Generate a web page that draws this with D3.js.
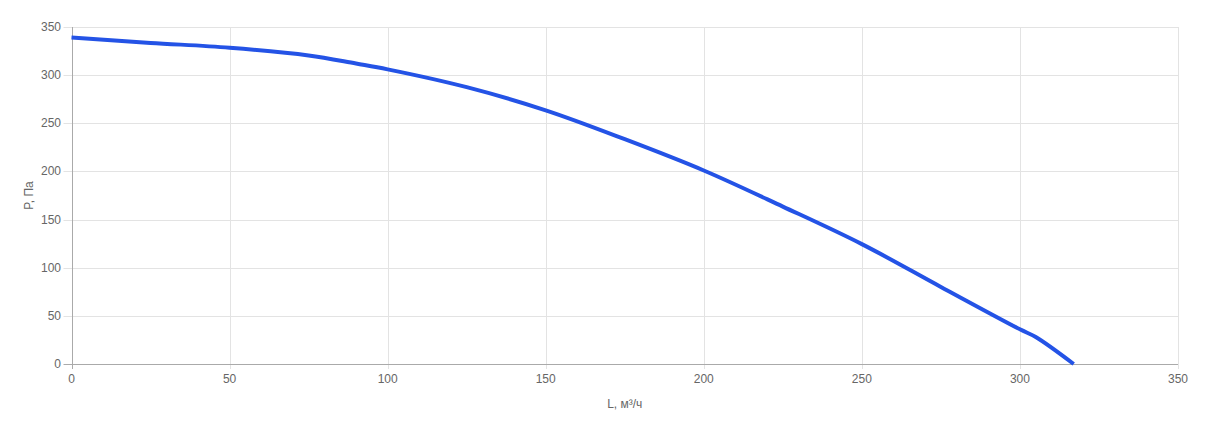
<!DOCTYPE html>
<html><head><meta charset="utf-8">
<script src="https://cdn.jsdelivr.net/npm/d3@7"></script>
<style>body{margin:0;background:#fff}svg{display:block}text{font-family:Arial,"Liberation Sans",sans-serif}</style>
</head><body><svg id="c" width="1206" height="421"></svg>
<script>
const flow = [0, 25, 50, 75, 90, 100, 125, 150, 175, 200, 225, 250, 275, 300, 305, 317];
const pressure = [339, 333.5, 328.5, 320.5, 312, 306, 287.5, 263.5, 233.5, 201, 163.5, 124.5, 80, 36, 28, 0];
const xTicks = [0, 50, 100, 150, 200, 250, 300, 350];
const yTicks = [0, 50, 100, 150, 200, 250, 300, 350];
const xTitle = "L, м³/ч";
const yTitle = "P, Па";

const svg = d3.select("#c");
const L = 71.5, R = 1178, T = 27, B = 364;
const x = d3.scaleLinear().domain([0, 350]).range([L, R]);
const y = d3.scaleLinear().domain([0, 350]).range([B, T]);
const grid = "#e3e3e3", txt = "#666";

// grid
svg.append("g").selectAll("line").data(xTicks.filter(d => d > 0)).join("line")
  .attr("x1", d => Math.round(x(d)) + 0.5).attr("x2", d => Math.round(x(d)) + 0.5)
  .attr("y1", T).attr("y2", B + 5).attr("stroke", grid);
svg.append("g").selectAll("line").data(yTicks.filter(d => d > 0)).join("line")
  .attr("y1", d => Math.round(y(d)) + 0.5).attr("y2", d => Math.round(y(d)) + 0.5)
  .attr("x1", L - 8).attr("x2", R).attr("stroke", grid);
// axes lines
svg.append("line").attr("x1", L - 8).attr("x2", R).attr("y1", B + 0.5).attr("y2", B + 0.5).attr("stroke", "#aaa");
svg.append("line").attr("x1", Math.round(L) + 0.5).attr("x2", Math.round(L) + 0.5).attr("y1", T).attr("y2", B + 5).attr("stroke", "#aaa");

// tick labels
svg.append("g").selectAll("text").data(xTicks).join("text")
  .attr("x", d => x(d)).attr("y", 383).attr("text-anchor", "middle")
  .attr("font-size", 12).attr("fill", txt).text(d => d);
svg.append("g").selectAll("text").data(yTicks).join("text")
  .attr("x", 61).attr("y", d => y(d) + 4).attr("text-anchor", "end")
  .attr("font-size", 12).attr("fill", txt).text(d => d);

// titles
svg.append("text").attr("x", (L + R) / 2).attr("y", 408).attr("text-anchor", "middle")
  .attr("font-size", 12).attr("fill", txt).text(xTitle);
svg.append("text").attr("transform", `translate(33,${(T + B) / 2}) rotate(-90)`)
  .attr("text-anchor", "middle").attr("font-size", 12).attr("fill", txt).text(yTitle);

// curve
const pts = flow.map((f, i) => [f, pressure[i]]);
svg.append("path").datum(pts)
  .attr("d", d3.line().x(d => x(d[0])).y(d => y(d[1])).curve(d3.curveCatmullRom.alpha(0.5)))
  .attr("fill", "none").attr("stroke", "#2453e6").attr("stroke-width", 4)
  .attr("stroke-linejoin", "round");
</script></body></html>
